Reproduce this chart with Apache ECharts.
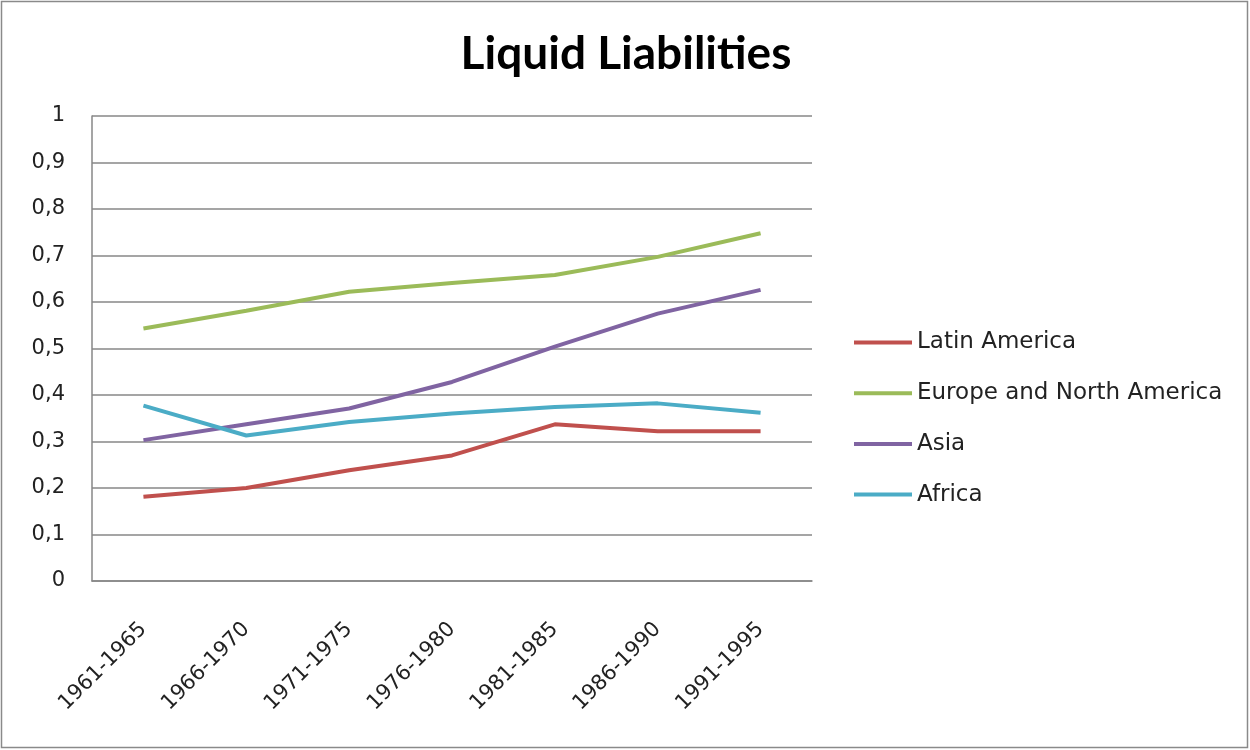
<!DOCTYPE html>
<html>
<head>
<meta charset="utf-8">
<title>Liquid Liabilities</title>
<script src="https://cdn.jsdelivr.net/npm/echarts@6/dist/echarts.min.js"></script>
<style>
  html, body { margin: 0; padding: 0; background: #fff; }
  #chart { width: 1250px; height: 750px; }
</style>
</head>
<body>
<div id="chart"></div>
<script>
// Five-year periods on the horizontal axis
const periods = ['1961-1965', '1966-1970', '1971-1975', '1976-1980', '1981-1985', '1986-1990', '1991-1995'];

// Liquid liabilities (ratio) by region
const latinAmerica = [0.181, 0.200, 0.238, 0.270, 0.337, 0.322, 0.322];
const europeNorthAmerica = [0.543, 0.581, 0.622, 0.641, 0.658, 0.697, 0.748];
const asia = [0.303, 0.337, 0.371, 0.428, 0.504, 0.575, 0.626];
const africa = [0.377, 0.313, 0.342, 0.360, 0.374, 0.382, 0.362];

const seriesNames = ['Latin America', 'Europe and North America', 'Asia', 'Africa'];
const seriesData = [latinAmerica, europeNorthAmerica, asia, africa];
const seriesColors = ['#C0504D', '#9BBB59', '#8064A2', '#4BACC6'];

const labelFont = 'DejaVu Sans';
const gridColor = '#878787';

const chart = echarts.init(document.getElementById('chart'), null, { renderer: 'canvas' });

chart.setOption({
  backgroundColor: '#ffffff',
  animation: false,
  title: {
    text: 'Liquid Liabilities',
    left: 621,
    textAlign: 'center',
    top: 26,
    textStyle: { fontFamily: 'Lato', fontWeight: 'bold', fontSize: 46, color: '#000' }
  },
  graphic: [{
    type: 'rect',
    shape: { x: 1.5, y: 1.5, width: 1246, height: 746 },
    style: { fill: 'none', stroke: '#8a8a8a', lineWidth: 1.5 },
    silent: true
  }],
  legend: {
    orient: 'vertical',
    left: 854,
    top: 331,
    padding: 0,
    icon: 'rect',
    itemWidth: 58,
    itemHeight: 4,
    itemGap: 27.7,
    data: seriesNames,
    textStyle: { fontFamily: labelFont, fontSize: 23, color: '#222', lineHeight: 23 }
  },
  grid: { left: 92, right: 438, top: 116, bottom: 169, containLabel: false },
  xAxis: {
    type: 'category',
    data: periods,
    boundaryGap: true,
    axisLine: { show: true, lineStyle: { color: gridColor, width: 1.5 } },
    axisTick: { show: false },
    axisLabel: {
      rotate: 45,
      interval: 0,
      margin: 45,
      padding: [24, 0, 0, 0],
      fontFamily: labelFont,
      fontSize: 21,
      color: '#222'
    }
  },
  yAxis: {
    type: 'value',
    min: 0,
    max: 1,
    interval: 0.1,
    axisLine: { show: true, lineStyle: { color: gridColor, width: 1.5 } },
    axisTick: { show: false },
    splitLine: { show: true, lineStyle: { color: gridColor, width: 1.5 } },
    axisLabel: {
      margin: 27,
      fontFamily: labelFont,
      fontSize: 21,
      color: '#222',
      formatter: function (v) { return String(Math.round(v * 10) / 10).replace('.', ','); }
    }
  },
  series: seriesNames.map(function (name, i) {
    return {
      name: name,
      type: 'line',
      data: seriesData[i],
      symbol: 'none',
      color: seriesColors[i],
      lineStyle: { width: 4, color: seriesColors[i] }
    };
  })
});
</script>
</body>
</html>
